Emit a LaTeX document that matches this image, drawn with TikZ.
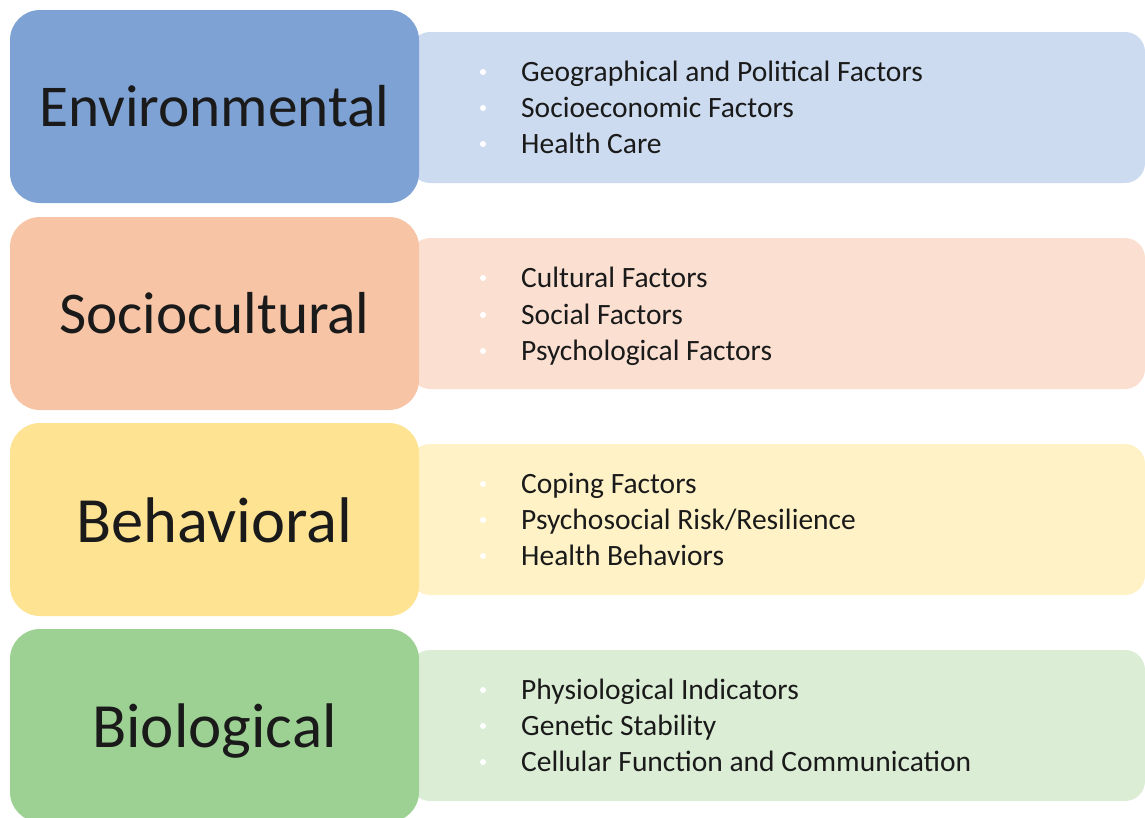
\documentclass[tikz,border=0pt]{standalone}
\usepackage{fontspec}
\setmainfont{Carlito}
\definecolor{envDark}{HTML}{7FA2D5}
\definecolor{envLight}{HTML}{CCDBEF}
\definecolor{socDark}{HTML}{F7C4A6}
\definecolor{socLight}{HTML}{FBE0D2}
\definecolor{behDark}{HTML}{FEE393}
\definecolor{behLight}{HTML}{FFF2C6}
\definecolor{bioDark}{HTML}{9DD194}
\definecolor{bioLight}{HTML}{DCEDD6}
\definecolor{ink}{HTML}{1A1A1A}
\newcommand{\labelsize}[1]{\fontsize{#1}{1.2\dimexpr#1pt\relax}\selectfont}
\begin{document}
\begin{tikzpicture}[x=1pt,y=-1pt,
  category/.style={rounded corners=30pt, minimum width=409pt, minimum height=193pt,
    inner sep=0pt, text=ink},
  panel/.style={rounded corners=20pt, minimum width=735pt, minimum height=151pt, inner sep=0pt},
  item/.style={anchor=base west, inner sep=0pt, font=\fontsize{29.5}{35}\selectfont, text=ink},
  bullet/.style={circle, fill=white, inner sep=0pt, minimum size=6pt}]
\useasboundingbox (0,0) rectangle (1145,817);

% detail panels (behind the category boxes)
\node[panel, fill=envLight] (envP) at (777.5,107.5) {};
\node[panel, fill=socLight] (socP) at (777.5,313.5) {};
\node[panel, fill=behLight] (behP) at (777.5,519.5) {};
\node[panel, fill=bioLight] (bioP) at (777.5,725.5) {};

% category boxes
\node[category, fill=envDark, font=\labelsize{59.3}] (env) at (214.5,106.5) {Environmental};
\node[category, fill=socDark, font=\labelsize{59.2}] (soc) at (214.5,313.5) {Sociocultural};
\node[category, fill=behDark, font=\labelsize{64.5}, text height=52pt, text depth=7pt] (beh) at (214.5,519.5) {Behavioral};
\node[category, fill=bioDark, font=\labelsize{63}, text height=50pt, text depth=7pt] (bio) at (214.5,725.5) {Biological};

% Environmental items
\node[bullet] (envB1) at (483,72) {};
\node[bullet] (envB2) at (483,108) {};
\node[bullet] (envB3) at (483,144) {};
\node[item] (envI1) at (521,81.5) {Geographical and Political Factors};
\node[item] (envI2) at (521,117.5) {Socioeconomic Factors};
\node[item] (envI3) at (521,153.5) {Health Care};

% Sociocultural items
\node[bullet] (socB1) at (483,278) {};
\node[bullet] (socB2) at (483,315) {};
\node[bullet] (socB3) at (483,351) {};
\node[item] (socI1) at (521,287.5) {Cultural Factors};
\node[item] (socI2) at (521,324.5) {Social Factors};
\node[item] (socI3) at (521,360.5) {Psychological Factors};

% Behavioral items
\node[bullet] (behB1) at (483,484) {};
\node[bullet] (behB2) at (483,520) {};
\node[bullet] (behB3) at (483,556) {};
\node[item] (behI1) at (521,493.5) {Coping Factors};
\node[item] (behI2) at (521,529.5) {Psychosocial Risk/Resilience};
\node[item] (behI3) at (521,565.5) {Health Behaviors};

% Biological items
\node[bullet] (bioB1) at (483,690) {};
\node[bullet] (bioB2) at (483,726) {};
\node[bullet] (bioB3) at (483,762) {};
\node[item] (bioI1) at (521,699.5) {Physiological Indicators};
\node[item] (bioI2) at (521,735.5) {Genetic Stability};
\node[item] (bioI3) at (521,771.5) {Cellular Function and Communication};
\end{tikzpicture}
\end{document}
